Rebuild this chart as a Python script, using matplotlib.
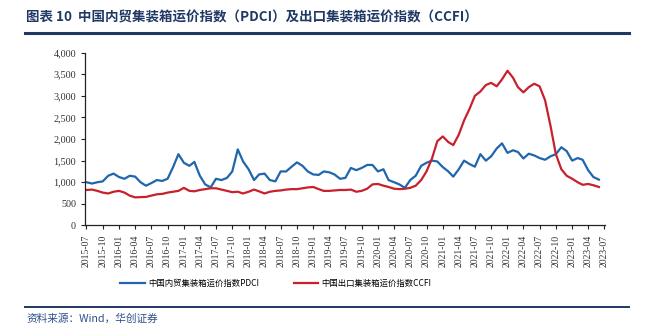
import numpy as np
import pandas as pd
import matplotlib
matplotlib.use("Agg")
import matplotlib.pyplot as plt
import matplotlib.dates as mdates
from matplotlib.lines import Line2D
from matplotlib.ticker import FuncFormatter

plt.rcParams['font.family'] = ['Noto Sans CJK SC', 'DejaVu Sans']

# monthly readings, 2015-07 .. 2023-06
months = pd.date_range('2015-07-01', periods=96, freq='MS')

pdci = [1000, 970, 1000, 1020, 1150, 1200, 1120, 1080, 1150, 1130,
        1000, 920, 980, 1050, 1030, 1080, 1350, 1650, 1450, 1380,
        1470, 1150, 950, 880, 1080, 1050, 1100, 1250, 1760, 1480,
        1300, 1050, 1180, 1200, 1050, 1020, 1250, 1250, 1360, 1460,
        1380, 1250, 1180, 1170, 1250, 1230, 1180, 1080, 1100, 1330,
        1280, 1330, 1400, 1400, 1250, 1300, 1050, 1000, 950, 870,
        1050, 1150, 1380, 1450, 1500, 1480, 1350, 1250, 1130, 1300,
        1500, 1420, 1360, 1650, 1500, 1600, 1780, 1900, 1680, 1740,
        1700, 1550, 1660, 1620, 1560, 1520, 1600, 1650, 1810, 1720,
        1500, 1560, 1520, 1280, 1120, 1060]

ccfi = [820, 830, 800, 760, 740, 780, 800, 760, 690, 650,
        655, 660, 690, 720, 730, 760, 780, 800, 870, 800,
        790, 820, 840, 860, 860, 830, 800, 770, 780, 740,
        780, 830, 790, 740, 780, 800, 810, 830, 840, 840,
        860, 880, 890, 840, 800, 800, 810, 820, 820, 830,
        780, 800, 850, 950, 960, 920, 890, 850, 840, 850,
        870, 920, 1050, 1250, 1550, 1950, 2060, 1930, 1860, 2100,
        2430, 2700, 3000, 3100, 3250, 3300, 3220, 3380, 3580, 3420,
        3200, 3080, 3200, 3280, 3220, 2900, 2300, 1650, 1300, 1150,
        1080, 1000, 940, 960, 930, 890]

title = '图表 10  中国内贸集装箱运价指数（PDCI）及出口集装箱运价指数（CCFI）'
label_pdci = '中国内贸集装箱运价指数PDCI'
label_ccfi = '中国出口集装箱运价指数CCFI'
source = '资料来源：Wind，华创证券'

navy = '#1f3864'
blue = '#1f66ad'
red = '#c8202c'
serif = ['Liberation Serif', 'DejaVu Serif']

fig = plt.figure(figsize=(6.54, 3.33), dpi=100)
ax = fig.add_axes([0.130, 0.323, 0.795, 0.519])

ax.plot(months, pdci, color=blue, lw=1.6, label=label_pdci)
ax.plot(months, ccfi, color=red, lw=1.6, label=label_ccfi)

ax.set_ylim(0, 4000)
ax.set_yticks(np.arange(0, 4001, 500))
ax.yaxis.set_major_formatter(FuncFormatter(lambda v, p: f'{int(v):,}'))

ticks = pd.date_range('2015-07-01', '2023-07-01', freq='3MS')
ax.set_xlim(ticks[0] - pd.Timedelta(days=8), ticks[-1] + pd.Timedelta(days=4))
ax.set_xticks(ticks)
ax.xaxis.set_major_formatter(mdates.DateFormatter('%Y-%m'))

for s in ['top', 'right']:
    ax.spines[s].set_visible(False)
for s in ['left', 'bottom']:
    ax.spines[s].set_color('#222222')
    ax.spines[s].set_linewidth(0.9)
ax.tick_params(axis='both', direction='out', length=3, width=0.8, color='#222222')
for lab in ax.get_yticklabels():
    lab.set_family(serif)
    lab.set_fontsize(7.3)
    lab.set_color('#333333')
for lab in ax.get_xticklabels():
    lab.set_family(serif)
    lab.set_fontsize(7)
    lab.set_color('#333333')
    lab.set_rotation(90)

fig.legend(loc='center', bbox_to_anchor=(0.422, 0.150), ncol=2, frameon=False,
           fontsize=6, handlelength=2.9, columnspacing=4.2, handletextpad=0.4)

fig.text(0.040, 0.948, title, fontsize=9.7, fontweight='bold', color=navy,
         va='center', ha='left')
fig.add_artist(Line2D([0.038, 0.962], [0.900, 0.900], color=navy, lw=2.2))
fig.add_artist(Line2D([0.038, 0.962], [0.078, 0.078], color=navy, lw=1.4))
fig.text(0.040, 0.043, source, fontsize=7.7, color='#2e4f8a', style='italic',
         va='center', ha='left')

fig.savefig('out.png', dpi=100)
